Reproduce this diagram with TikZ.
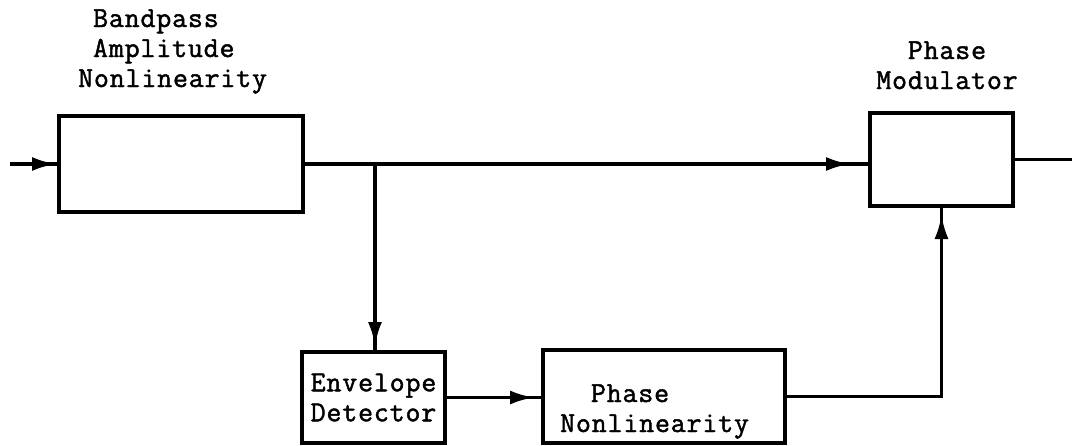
\documentclass[tikz,border=0pt]{standalone}
\usepackage{fontspec}
\newfontfamily\twfont[FakeBold=1.6,LetterSpace=3]{Latin Modern Mono}
\usetikzlibrary{arrows.meta,decorations.markings,calc}
\begin{document}
\begin{tikzpicture}[x=1pt,y=-1pt,
  box/.style={draw,line width=3.8pt,inner sep=0pt,outer sep=0pt},
  lbl/.style={font=\twfont\fontsize{29}{30}\selectfont,inner sep=0pt},
  wire/.style={line width=3.4pt},
  arr/.style={wire,postaction={decorate},
    decoration={markings,mark=at position -#1 with {\arrow{Latex[length=24pt,width=14pt]}}}},
]
\useasboundingbox (0,0) rectangle (1072,445);
% boxes
\node[box,minimum width=244pt,minimum height=96pt] (bpa) at (181,164) {};
\node[box,minimum width=143pt,minimum height=93pt] (mod) at (941.5,159.5) {};
\node[box,lbl,align=center,minimum width=143pt,minimum height=91pt] (env) at (373.5,397.5) {Envelope\\Detector};
\node[box,minimum width=242pt,minimum height=93pt] (pnl) at (664,396.5) {};
% labels (base anchor = baseline of the last line)
\node[lbl,align=left,anchor=base west] (bpatext) at (78,87) {\phantom{N}Bandpass\\\phantom{N}Amplitude\\Nonlinearity};
\node[lbl,align=center,anchor=base] (modtext) at (947,89) {Phase\\Modulator};
\node[lbl,align=left,anchor=base west] (pnltext) at (560,432) {\phantom{NN}Phase\\Nonlinearity};
% connectors
\coordinate (in) at (10,164);
\coordinate (out) at (1072,159.5);
\coordinate (br) at (375,164);
\draw[arr=3pt] (in) -- (bpa.west);
\draw[arr=20pt] (bpa.east) -- (bpa.east -| mod.west);
\draw[arr=6pt] (br) -- (br |- env.north);
\draw[arr=9pt] (env.east) -- (env.east -| pnl.west);
\draw[arr=9pt] (pnl.east) -| (mod.south);
\draw[wire] (mod.east) -- (out);
\end{tikzpicture}
\end{document}
